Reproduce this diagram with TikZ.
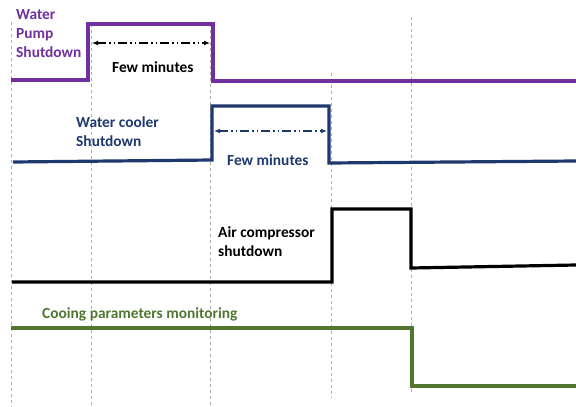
\documentclass[tikz,border=0pt]{standalone}
\usepackage{fontspec}
\setmainfont{Carlito}
\usetikzlibrary{arrows.meta}

\definecolor{pumppurple}{RGB}{112,48,160}
\definecolor{coolerblue}{RGB}{31,56,110}
\definecolor{monitorgreen}{RGB}{80,118,48}

\begin{document}
\begin{tikzpicture}[x=1pt, y=-1pt,
    every node/.style = {font=\bfseries\fontsize{15.4}{19}\selectfont,
      inner sep=0pt, align=left, anchor=base west},
    grid/.style = {draw=gray!65, line width=0.9pt, dash pattern=on 3pt off 3pt},
    signal/.style = {line width=3.2pt, line join=miter},
    span/.style = {line width=1.2pt,
      {Latex[length=6pt,width=5pt]}-{Latex[length=6pt,width=5pt]},
      dash pattern=on 9pt off 3pt on 1.5pt off 3pt on 1.5pt off 3pt}]
  \useasboundingbox (0,0) rectangle (576,407);

  % time marks
  \draw[grid] (11,22) -- (11,407);
  \draw[grid] (91,24) -- (91,407);
  \draw[grid] (210,24) -- (210,407);
  \draw[grid] (331,73) -- (331,398);
  \draw[grid] (411,17) -- (411,395);

  % signals
  \draw[signal, pumppurple] (11,80) -- (88,80) -- (88,24) -- (213,24)
    -- (213,81) -- (576,81);
  \draw[signal, coolerblue] (13,162) -- (212,160) -- (212,106) -- (329,106)
    -- (329,163) -- (576,161);
  \draw[signal, black] (12,282) -- (332,282) -- (332,209) -- (411,209)
    -- (411,268) -- (576,265);
  \draw[signal, monitorgreen] (11,328) -- (412,328) -- (412,386) -- (576,386);

  % labels (base = last line)
  \node (pump)  [text=pumppurple]   at (16,57)  {Water\\Pump\\Shutdown};
  \node (pumpgap)                   at (112,72) {Few minutes};
  \node (cooler) [text=coolerblue]  at (76,146) {Water cooler\\Shutdown};
  \node (coolergap) [text=coolerblue] at (227,165) {Few minutes};
  \node (comp)                      at (218,256) {Air compressor\\shutdown};
  \node (mon)  [text=monitorgreen]  at (42,318) {Cooing parameters monitoring};

  % spans
  \coordinate (p1) at (92,43);
  \coordinate (p2) at (210,43);
  \coordinate (c1) at (214,131);
  \coordinate (c2) at (327,131);
  \draw[span] (p1) -- (p2);
  \draw[span, coolerblue] (c1) -- (c2);
\end{tikzpicture}
\end{document}
